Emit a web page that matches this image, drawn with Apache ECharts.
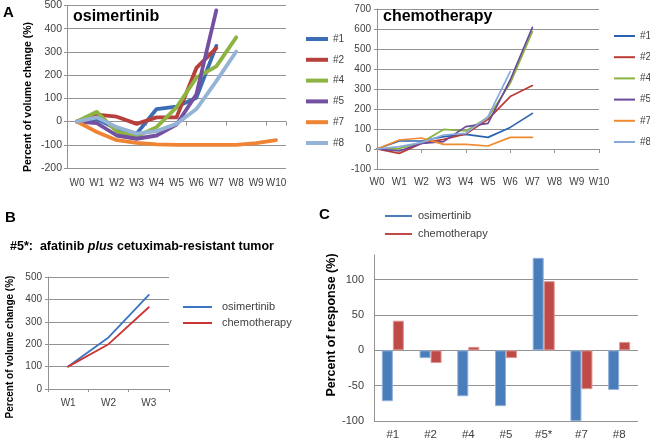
<!DOCTYPE html>
<html><head><meta charset="utf-8">
<script src="https://cdn.jsdelivr.net/npm/echarts@6/dist/echarts.min.js"></script>
<style>html,body{margin:0;padding:0;background:#fff}#c{width:650px;height:441px}</style>
</head><body><div id="c"></div>
<script>
// ---------- data ----------
const weeks = ['W0','W1','W2','W3','W4','W5','W6','W7','W8','W9','W10'];
const tumorIds = ['#1','#2','#4','#5','#7','#8'];
const osi_1 = [0, 11, -31, -52, 54, 64, 103, 326];
const osi_2 = [0, 30, 21, -10, 18, 18, 231, 316];
const osi_4 = [0, 42, -43, -64, -24, 61, 189, 238, 363];
const osi_5 = [0, -7, -60, -74, -60, -13, 118, 479];
const osi_7 = [0, -45, -80, -92, -98, -100, -100, -100, -100, -93, -80];
const osi_8 = [0, 18, -24, -52, -41, -10, 54, 174, 302];
const chemo_1 = [0, 40, 40, 62, 73, 58, 108, 178];
const chemo_2 = [0, -22, 28, 48, 75, 148, 262, 317];
const chemo_4 = [0, 3, 32, 98, 90, 158, 328, 587];
const chemo_5 = [0, -10, 28, 37, 112, 128, 345, 608];
const chemo_7 = [0, 45, 55, 23, 23, 15, 58, 58];
const chemo_8 = [0, 12, 32, 70, 78, 162, 387];
const bWeeks = ['W1','W2','W3'];
const b_osi = [100, 230, 420];
const b_chemo = [100, 200, 365];
const responseIds = ['#1','#2','#4','#5','#5*','#7','#8'];
const resp_osi = [-72, -11, -65, -79, 131, -100, -56];
const resp_chemo = [42, -18, 5, -11, 98, -55, 12];
const treatNames = ['osimertinib','chemotherapy'];

// ---------- styles ----------
const FONT = 'Liberation Sans';
const grey = '#939393';
const lab = '#404040';
const osiColors = ['#3c6db4','#b8403c','#8db342','#7350a0','#ef8434','#95b3d7'];
const chemoColors = ['#2a63b0','#bb3c36','#8ab23f','#6a489c','#f08a32','#88aadb'];
const bColors = ['#3a75c4','#cc3333'];
const barColors = ['#4a7ebb','#be4b48'];
const barBorders = ['#8fb0da','#dc9896'];

const osiData = [osi_1, osi_2, osi_4, osi_5, osi_7, osi_8];
const chemoData = [chemo_1, chemo_2, chemo_4, chemo_5, chemo_7, chemo_8];

function line(name, data, xi, yi, color, width) {
  return {type:'line', name, data, xAxisIndex:xi, yAxisIndex:yi, symbol:'none',
    lineStyle:{color, width, join:'round', cap:'round'}, itemStyle:{color}, z:3};
}
const series = [];
series.push(line(treatNames[0], b_osi, 4, 2, bColors[0], 1.8));
series.push(line(treatNames[1], b_chemo, 4, 2, bColors[1], 1.8));
tumorIds.forEach((n,i)=>series.push(line(n, osiData[i], 0, 0, osiColors[i], 3.8)));
tumorIds.forEach((n,i)=>series.push(line(n, chemoData[i], 2, 1, chemoColors[i], 1.7)));
series.push({type:'bar', name:treatNames[0], data:resp_osi, xAxisIndex:5, yAxisIndex:3, barWidth:11, barGap:'0%',
  itemStyle:{color:barColors[0], borderColor:barBorders[0], borderWidth:1}});
series.push({type:'bar', name:treatNames[1], data:resp_chemo, xAxisIndex:5, yAxisIndex:3, barWidth:11, barGap:'0%',
  itemStyle:{color:barColors[1], borderColor:barBorders[1], borderWidth:1}});

const gl = {lineStyle:{color:grey, width:1}};
function labelX(size, margin){ return {color:lab, fontSize:size, fontFamily:FONT, margin, interval:0, hideOverlap:false}; }

const option = {
  animation:false,
  backgroundColor:'#fff',
  textStyle:{fontFamily:FONT},
  grid:[
    {left:67, top:3, width:219, height:165},
    {left:377, top:9, width:222, height:160},
    {left:48, top:277, width:121, height:112},
    {left:374, top:255, width:264, height:167}
  ],
  xAxis:[
    {type:'category', gridIndex:0, data:weeks, boundaryGap:true, position:'bottom',
      axisLine:{show:false, onZero:false}, axisTick:{show:false}, axisLabel:labelX(10, 10)},
    {type:'category', gridIndex:0, data:weeks, boundaryGap:true, position:'top',
      axisLine:{show:true, onZero:true, lineStyle:{color:grey}}, axisTick:{show:true, inside:true, length:4, lineStyle:{color:grey}}, axisLabel:{show:false}},
    {type:'category', gridIndex:1, data:weeks, boundaryGap:false, position:'bottom',
      axisLine:{show:false, onZero:false}, axisTick:{show:false}, axisLabel:labelX(10, 8)},
    {type:'category', gridIndex:1, data:weeks, boundaryGap:false, position:'top',
      axisLine:{show:true, onZero:true, lineStyle:{color:grey}}, axisTick:{show:true, inside:true, length:4, lineStyle:{color:grey}}, axisLabel:{show:false}},
    {type:'category', gridIndex:2, data:bWeeks, boundaryGap:true, position:'bottom',
      axisLine:{show:true, lineStyle:{color:grey}}, axisTick:{show:true, length:3, lineStyle:{color:grey}}, axisLabel:labelX(10, 9)},
    {type:'category', gridIndex:3, data:responseIds, boundaryGap:true, position:'bottom',
      axisLine:{show:false, onZero:false}, axisTick:{show:false}, axisLabel:labelX(11.5, 8)}
  ],
  yAxis:[
    {type:'value', gridIndex:0, min:-200, max:500, interval:100,
      axisLine:{show:true, lineStyle:{color:grey}}, axisTick:{show:true, length:3, lineStyle:{color:grey}},
      axisLabel:{color:lab, fontSize:10.5, fontFamily:FONT, margin:5}, splitLine:gl},
    {type:'value', gridIndex:1, min:-100, max:700, interval:100,
      axisLine:{show:true, lineStyle:{color:grey}}, axisTick:{show:true, length:3, lineStyle:{color:grey}},
      axisLabel:{color:lab, fontSize:10, fontFamily:FONT, margin:6}, splitLine:gl},
    {type:'value', gridIndex:2, min:0, max:500, interval:100,
      axisLine:{show:true, lineStyle:{color:grey}}, axisTick:{show:true, length:3, lineStyle:{color:grey}},
      axisLabel:{color:lab, fontSize:10, fontFamily:FONT, margin:6}, splitLine:gl},
    {type:'value', gridIndex:3, min:-100, max:135, interval:50,
      axisLine:{show:true, lineStyle:{color:grey}}, axisTick:{show:false},
      axisLabel:{color:lab, fontSize:11, fontFamily:FONT, margin:10, showMaxLabel:false},
      splitLine:{showMaxLine:false, lineStyle:{color:[grey,grey,grey,grey,grey,'rgba(0,0,0,0)'], width:1}}}
  ],
  legend:[
    {orient:'vertical', left:306, top:33, padding:0, icon:'rect', itemWidth:22, itemHeight:4, itemGap:8.8,
      data:tumorIds.map((n,i)=>({name:n, itemStyle:{color:osiColors[i], borderWidth:0}})),
      itemStyle:{borderWidth:0}, textStyle:{color:lab, fontSize:10, lineHeight:12, fontFamily:FONT}, selectedMode:false},
    {orient:'vertical', left:614, top:30, padding:0, icon:'rect', itemWidth:21, itemHeight:2, itemGap:9.2,
      data:tumorIds.map((n,i)=>({name:n, itemStyle:{color:chemoColors[i], borderWidth:0}})),
      itemStyle:{borderWidth:0}, textStyle:{color:lab, fontSize:10, lineHeight:12, fontFamily:FONT}, selectedMode:false},
    {orient:'vertical', left:183, top:301, padding:0, icon:'rect', itemWidth:29, itemHeight:2, itemGap:4,
      data:treatNames.map((n,i)=>({name:n, itemStyle:{color:bColors[i], borderWidth:0}})),
      itemStyle:{borderWidth:0}, textStyle:{color:lab, fontSize:11, lineHeight:12, fontFamily:FONT, padding:[0,0,0,5]}, selectedMode:false},
    {orient:'vertical', left:385, top:210, padding:0, icon:'rect', itemWidth:27, itemHeight:2, itemGap:6,
      data:treatNames.map((n,i)=>({name:n, itemStyle:{color:barColors[i], borderWidth:0}})),
      itemStyle:{borderWidth:0}, textStyle:{color:lab, fontSize:11, lineHeight:12, fontFamily:FONT, padding:[0,0,0,1]}, selectedMode:false}
  ],
  graphic:[
    {type:'text', x:3, y:13, style:{text:'A', font:'bold 15px "Liberation Sans"', fill:'#000', align:'left', verticalAlign:'middle'}},
    {type:'text', x:73, y:17, z:10, style:{text:'osimertinib', font:'bold 16px "Liberation Sans"', fill:'#000', align:'left', verticalAlign:'middle'}},
    {type:'text', x:383, y:17, z:10, style:{text:'chemotherapy', font:'bold 16px "Liberation Sans"', fill:'#000', align:'left', verticalAlign:'middle'}},
    {type:'text', x:5, y:218, style:{text:'B', font:'bold 15px "Liberation Sans"', fill:'#000', align:'left', verticalAlign:'middle'}},
    {type:'text', x:319, y:215, style:{text:'C', font:'bold 15px "Liberation Sans"', fill:'#000', align:'left', verticalAlign:'middle'}},
    {type:'text', x:10, y:247, style:{
      text:'{b|#5*:  afatinib }{i|plus}{b| cetuximab-resistant tumor}', align:'left', verticalAlign:'middle',
      rich:{b:{fontSize:12.5, fontWeight:'bold', fontFamily:FONT, fill:'#000'},
            i:{fontSize:12.5, fontWeight:'bold', fontStyle:'italic', fontFamily:FONT, fill:'#000'}}}},
    {type:'text', x:28, y:97, rotation:Math.PI/2, style:{text:'Percent of volume change (%)', font:'bold 10.5px "Liberation Sans"', fill:'#000', align:'center', verticalAlign:'middle'}},
    {type:'text', x:10, y:347, rotation:Math.PI/2, style:{text:'Percent of volume change (%)', font:'bold 10px "Liberation Sans"', fill:'#000', align:'center', verticalAlign:'middle'}},
    {type:'text', x:332, y:325, rotation:Math.PI/2, style:{text:'Percent of response (%)', font:'bold 12.5px "Liberation Sans"', fill:'#000', align:'center', verticalAlign:'middle'}}
  ],
  series
};
const chart = echarts.init(document.getElementById('c'));
chart.setOption(option);
</script>
</body></html>
